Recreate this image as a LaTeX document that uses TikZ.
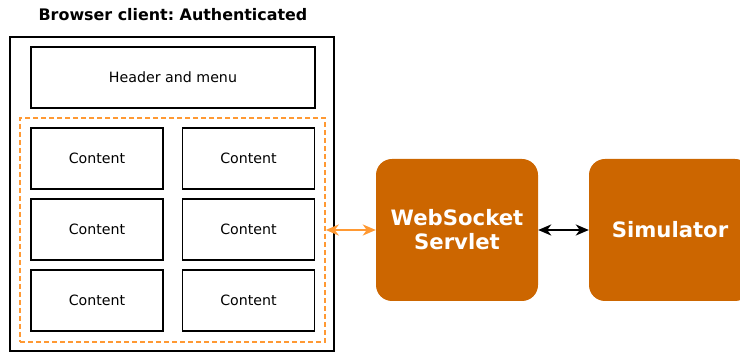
\documentclass[tikz,border=0pt]{standalone}
\usepackage{fontspec}
\setmainfont{DejaVu Sans}
\usepackage{tikz}
\usetikzlibrary{positioning,arrows.meta,shapes}

\definecolor{srvorange}{HTML}{CC6600}
\definecolor{lnkorange}{HTML}{FF9933}
\frenchspacing

\begin{document}
\begin{tikzpicture}[x=1pt,y=-1pt,
    box/.style={draw=black, line width=1.6pt, minimum width=132pt, minimum height=61pt, inner sep=0pt, font=\fontsize{14.2}{17}\selectfont},
    srv/.style={fill=srvorange, rounded corners=16pt, minimum width=162pt, minimum height=142pt, text=white, align=center, font=\bfseries\fontsize{21.2}{24}\selectfont},
    link/.style={line width=2.6pt, arrows={Stealth[length=13pt,width=11pt,inset=4pt]-Stealth[length=13pt,width=11pt,inset=4pt]}}]

    \useasboundingbox (0,0) rectangle (740,352);

    \node[font=\bfseries\fontsize{15.9}{18}\selectfont] (Title) at (173,15) {Browser client: Authenticated};

    \node[draw=black, line width=1.6pt, minimum width=324pt, minimum height=314pt] (Client) at (172,194) {};
    \node[box, minimum width=284pt] (Hdr) at (173,77.5) {Header and menu};

    \node[draw=lnkorange, line width=1.6pt, dash pattern=on 5pt off 3pt, minimum width=305pt, minimum height=224pt] (Area) at (172.5,230) {};

    \node[box] (C11) at (97,158.5) {Content};
    \node[box] (C12) at (248.5,158.5) {Content};
    \node[box] (C21) at (97,229.5) {Content};
    \node[box] (C22) at (248.5,229.5) {Content};
    \node[box] (C31) at (97,300.5) {Content};
    \node[box] (C32) at (248.5,300.5) {Content};

    \node[srv] (WS) at (457,230) {WebSocket\\Servlet};
    \node[srv] (Sim) at (670,230) {Simulator};

    \draw[link, draw=lnkorange, fill=lnkorange] (Area.east) -- (WS.west);
    \draw[link, fill=black] (WS.east) -- (Sim.west);

\end{tikzpicture}
\end{document}
